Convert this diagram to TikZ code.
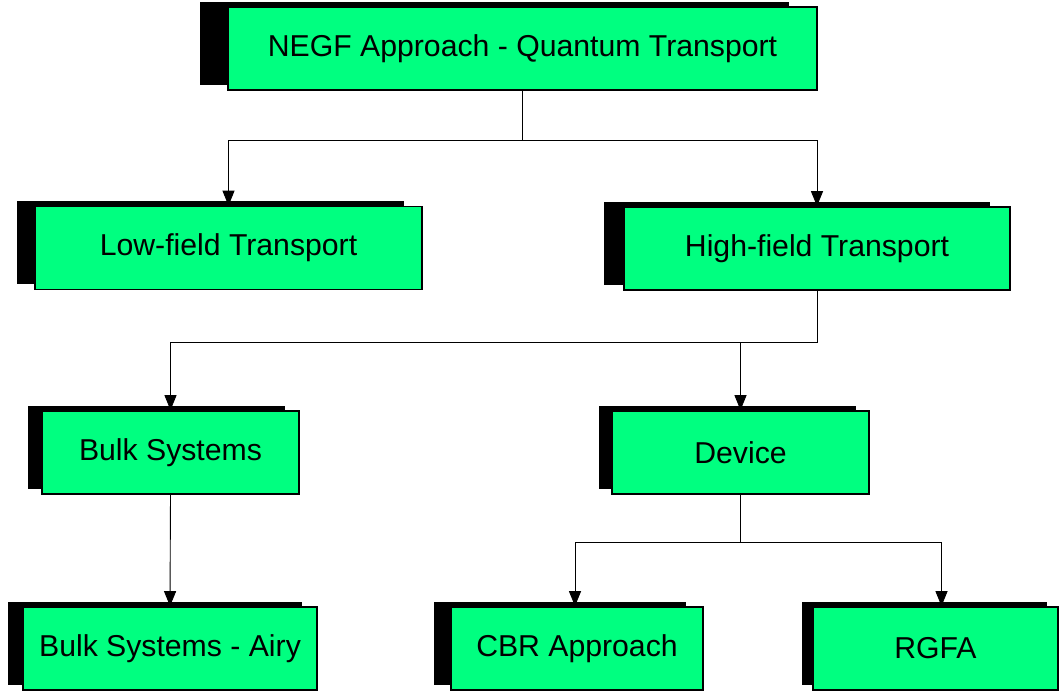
\documentclass[tikz,border=0pt]{standalone}
\usepackage{fontspec}
\setmainfont{Liberation Sans}
\usetikzlibrary{arrows.meta,shadows}
\definecolor{boxgreen}{RGB}{0,255,128}
\begin{document}
\begin{tikzpicture}[x=1pt,y=-1pt,
  boxnode/.style={draw=black, line width=1.6pt, fill=boxgreen, inner sep=0pt,
    minimum height=83pt, font=\fontsize{30.2}{35}\selectfont},
  shd/.style={drop shadow={fill=black, opacity=1, shadow xshift=-#1, shadow yshift=5pt}},
  link/.style={draw=black, line width=0.9pt},
  arr/.style={link, -{Triangle[length=15pt,width=12pt]}}]
\useasboundingbox (0,0) rectangle (1061,692);
\node[boxnode, shd=28pt, minimum width=589pt] (n0) at (522.5,48.5) {NEGF Approach - Quantum Transport};
\node[boxnode, shd=18pt, minimum width=387pt] (lf) at (228.5,248) {Low-field Transport};
\node[boxnode, shd=20pt, minimum width=386pt] (hf) at (817,248.5) {High-field Transport};
\node[boxnode, shd=14pt, minimum width=257pt] (bs) at (170.5,452.5) {Bulk Systems};
\node[boxnode, shd=13pt, minimum width=257pt] (dev) at (740.5,452.5) {Device};
\node[boxnode, shd=15pt, minimum width=294pt] (bsa) at (170,648.5) {Bulk Systems - Airy};
\node[boxnode, shd=17pt, minimum width=252pt] (cbr) at (577,648.5) {CBR Approach};
\node[boxnode, shd=11pt, minimum width=245pt] (rgfa) at (935.5,648.5) {RGFA};
% connectors
\draw[link] (n0.south) -- ++(0,50) coordinate (j0);
\draw[arr] (j0) -| (lf.north);
\draw[arr] (j0) -| (hf.north);
\draw[link] (hf.south) -- ++(0,52) coordinate (j1);
\draw[arr] (j1) -| (bs.north);
\draw[arr] (j1) -| (dev.north);
\draw[arr] (bs.south) -- (bsa.north);
\draw[link] (dev.south) -- ++(0,48) coordinate (j2);
\draw[arr] (j2) -| ([xshift=-2pt]cbr.north);
\draw[arr] (j2) -| ([xshift=6pt]rgfa.north);
\end{tikzpicture}
\end{document}
